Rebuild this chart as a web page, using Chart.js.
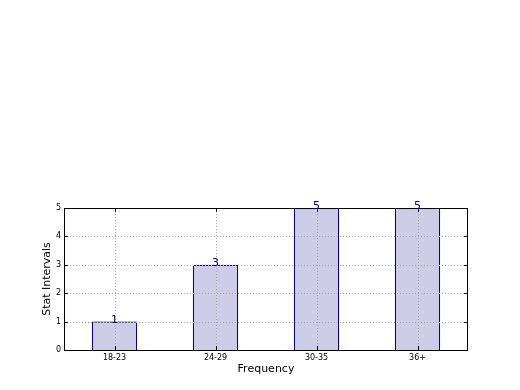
<!DOCTYPE html>
<html>
<head>
<meta charset="utf-8">
<script src="https://cdn.jsdelivr.net/npm/chart.js@4/dist/chart.umd.min.js"></script>
<style>
  html, body { margin: 0; padding: 0; background: #fff; }
  #wrap { width: 520px; height: 390px; }
</style>
</head>
<body>
<div id="wrap"><canvas id="chart" width="520" height="390"></canvas></div>
<script>
const categories = ["18-23", "24-29", "30-35", "36+"];
const counts = [1, 3, 5, 5];
const yTicks = [0, 1, 2, 3, 4, 5];

const font = "'DejaVu Sans', sans-serif";
const navy = "#000080";

// dotted grid over the bars, a frame on all four sides and inward tick marks
const framePlugin = {
  id: "frame",
  afterDatasetsDraw(chart) {
    const { ctx, chartArea: a, scales } = chart;
    ctx.save();
    ctx.strokeStyle = "#aaaaaa";
    ctx.lineWidth = 1;
    ctx.setLineDash([1, 2]);
    ctx.beginPath();
    yTicks.forEach((v) => {
      const y = Math.round(scales.y.getPixelForValue(v)) + 0.5;
      ctx.moveTo(a.left, y); ctx.lineTo(a.right, y);
    });
    categories.forEach((c, i) => {
      const x = Math.round(scales.x.getPixelForValue(i)) + 0.5;
      ctx.moveTo(x, a.top); ctx.lineTo(x, a.bottom);
    });
    ctx.stroke();

    ctx.setLineDash([]);
    ctx.strokeStyle = "#000";
    ctx.strokeRect(Math.round(a.left) + 0.5, Math.round(a.top) + 0.5,
      Math.round(a.right - a.left) - 1, Math.round(a.bottom - a.top));
    ctx.beginPath();
    yTicks.forEach((v) => {
      const y = Math.round(scales.y.getPixelForValue(v)) + 0.5;
      ctx.moveTo(a.left, y); ctx.lineTo(a.left + 4, y);
      ctx.moveTo(a.right, y); ctx.lineTo(a.right - 4, y);
    });
    categories.forEach((c, i) => {
      const x = Math.round(scales.x.getPixelForValue(i)) + 0.5;
      ctx.moveTo(x, a.bottom); ctx.lineTo(x, a.bottom - 4);
      ctx.moveTo(x, a.top); ctx.lineTo(x, a.top + 4);
    });
    ctx.stroke();
    ctx.restore();
  }
};

const valueLabels = {
  id: "valueLabels",
  afterDraw(chart) {
    const { ctx } = chart;
    const meta = chart.getDatasetMeta(0);
    ctx.save();
    ctx.font = `11px ${font}`;
    ctx.fillStyle = navy;
    ctx.textAlign = "center";
    ctx.textBaseline = "alphabetic";
    meta.data.forEach((bar, i) => {
      ctx.fillText(String(counts[i]), bar.x, bar.y + 1);
    });
    ctx.restore();
  }
};

new Chart(document.querySelector("#chart"), {
  type: "bar",
  data: {
    labels: categories,
    datasets: [
      {
        data: counts,
        backgroundColor: "#ccccE6",
        borderColor: navy,
        borderWidth: 1.2,
        barPercentage: 0.45,
        categoryPercentage: 1
      }
    ]
  },
  options: {
    responsive: false,
    animation: false,
    events: [],
    layout: { padding: { left: 41, top: 208, right: 52, bottom: 0 } },
    plugins: { legend: { display: false }, tooltip: { enabled: false } },
    scales: {
      x: {
        afterFit: (scale) => { scale.height = 40; },
        grid: { display: false, offset: false, drawTicks: false },
        border: { display: false },
        ticks: { color: "#000", font: { family: font, size: 8 }, padding: 3, maxRotation: 0 },
        title: { display: true, text: "Frequency", color: "#000", font: { family: font, size: 11 }, padding: { top: 0, bottom: 14 } }
      },
      y: {
        min: 0,
        max: 5,
        afterFit: (scale) => { scale.width = 23; },
        afterBuildTicks: (scale) => { scale.ticks = yTicks.map((v) => ({ value: v })); },
        grid: { display: false, drawTicks: false },
        border: { display: false },
        ticks: { color: "#000", font: { family: font, size: 8 }, padding: 3 },
        title: { display: true, text: "Stat Intervals", color: "#000", font: { family: font, size: 11 }, padding: 0 }
      }
    }
  },
  plugins: [framePlugin, valueLabels]
});
</script>
</body>
</html>
